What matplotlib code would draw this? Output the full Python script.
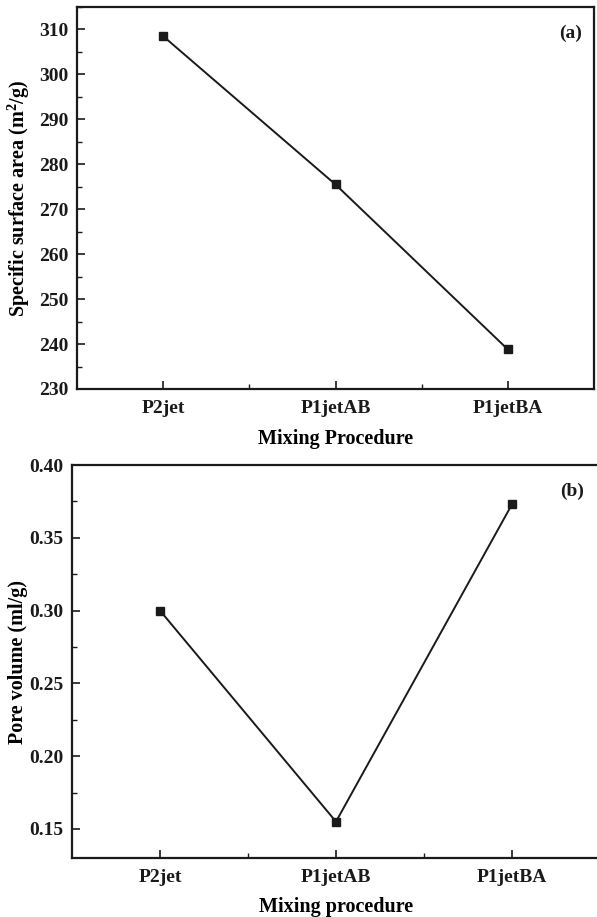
import matplotlib
matplotlib.use("Agg")
import matplotlib.pyplot as plt
from matplotlib.ticker import MultipleLocator, FixedLocator, FormatStrFormatter

# Data
procedures = ["P2jet", "P1jetAB", "P1jetBA"]
surface_area = [308.5, 275.5, 238.8]      # m^2/g
pore_volume = [0.300, 0.155, 0.373]       # ml/g

plt.rcParams["font.family"] = ["Liberation Serif", "DejaVu Serif"]
plt.rcParams["font.weight"] = "bold"
plt.rcParams["mathtext.fontset"] = "custom"
plt.rcParams["mathtext.rm"] = "Liberation Serif:bold"
plt.rcParams["mathtext.bf"] = "Liberation Serif:bold"

FS = 14
LFS = 14.5
INK = "#1a1a1a"

fig = plt.figure(figsize=(5.97, 9.17), dpi=100)
ax1 = fig.add_axes([0.129, 0.5758, 0.866, 0.4166])
ax2 = fig.add_axes([0.1206, 0.0643, 0.8844, 0.4286])

xpos = list(range(len(procedures)))


def style(ax):
    for sp in ax.spines.values():
        sp.set_linewidth(1.6)
        sp.set_color(INK)
    ax.set_xlim(-0.5, len(procedures) - 0.5)
    ax.set_xticks(xpos)
    ax.set_xticklabels(procedures, fontsize=FS, fontweight="bold")
    ax.xaxis.set_minor_locator(FixedLocator([0.5, 1.5]))
    ax.tick_params(which="major", direction="in", length=6, width=1.2,
                   colors=INK, labelsize=FS, pad=6)
    ax.tick_params(axis="x", which="major", pad=8)
    ax.tick_params(which="minor", direction="in", length=3.5, width=1.0,
                   colors=INK)
    ax.tick_params(axis="y", which="both", right=False)
    ax.tick_params(axis="x", which="both", top=False)
    for lab in ax.get_yticklabels():
        lab.set_fontweight("bold")


# (a) specific surface area
ax1.plot(xpos, surface_area, color=INK, lw=1.4, marker="s", ms=6,
         mfc=INK, mec=INK)
ax1.set_ylim(230, 315)
ax1.yaxis.set_major_locator(MultipleLocator(10))
ax1.yaxis.set_minor_locator(MultipleLocator(5))
style(ax1)
ax1.set_ylabel(r"Specific surface area (m$^{2}$/g)", fontsize=LFS,
               fontweight="bold")
ax1.yaxis.set_label_coords(-0.087, 0.5)
ax1.set_xlabel("Mixing Procedure", fontsize=LFS, fontweight="bold")
ax1.xaxis.set_label_coords(0.5, -0.105)
ax1.text(0.954, 0.932, "(a)", transform=ax1.transAxes, fontsize=FS,
         fontweight="bold", ha="center", va="center", color=INK)

# (b) pore volume
ax2.plot(xpos, pore_volume, color=INK, lw=1.4, marker="s", ms=6,
         mfc=INK, mec=INK)
ax2.set_ylim(0.13, 0.40)
ax2.yaxis.set_major_locator(MultipleLocator(0.05))
ax2.yaxis.set_minor_locator(MultipleLocator(0.025))
ax2.yaxis.set_major_formatter(FormatStrFormatter("%.2f"))
style(ax2)
ax2.set_ylabel("Pore volume (ml/g)", fontsize=LFS, fontweight="bold")
ax2.yaxis.set_label_coords(-0.083, 0.5)
ax2.set_xlabel("Mixing procedure", fontsize=LFS, fontweight="bold")
ax2.xaxis.set_label_coords(0.5, -0.100)
ax2.text(0.947, 0.934, "(b)", transform=ax2.transAxes, fontsize=FS,
         fontweight="bold", ha="center", va="center", color=INK)

fig.savefig("out.png", dpi=100)
